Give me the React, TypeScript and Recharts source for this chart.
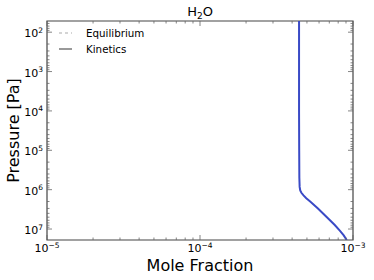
import React from 'react';
import { ScatterChart, Scatter, XAxis, YAxis, ReferenceArea } from 'recharts';

const W = 374;
const H = 280;
const MARGIN = { top: 21, right: 21, bottom: 0, left: 0 };
const Y_AXIS_W = 47;
const X_AXIS_H = 40;
const PLOT_LEFT = MARGIN.left + Y_AXIS_W;
const PLOT_RIGHT = W - MARGIN.right;
const PLOT_TOP = MARGIN.top;
const PLOT_BOTTOM = H - MARGIN.bottom - X_AXIS_H;

const FONT = '"DejaVu Sans", sans-serif';
const BLUE = '#3a4ac6';
const FRAME = '#444';

// H2O kinetics profile (pressure in Pa, mole fraction)
const pressure = [52, 1e2, 1e3, 1e4, 1e5, 5e5, 8.5e5, 1.05e6, 1.2e6, 1.4e6, 1.65e6, 2.0e6, 3.0e6, 4.9e6, 7.9e6, 1.1e7, 1.45e7, 1.9e7];
const kinetics = [4.44e-4, 4.44e-4, 4.44e-4, 4.44e-4, 4.45e-4, 4.46e-4, 4.48e-4, 4.52e-4, 4.6e-4, 4.75e-4, 4.95e-4, 5.25e-4, 5.9e-4, 6.7e-4, 7.6e-4, 8.2e-4, 8.7e-4, 9.1e-4];

const xDomain = [1e-5, 1e-3];
const yDomain = [52, 1.9e7];

const legendItems = [
  { name: 'Equilibrium', color: '#aaa', dash: '3 3' },
  { name: 'Kinetics', color: '#555', dash: undefined },
];

const curve = pressure.map((p, i) => ({ x: kinetics[i], p }));

// major + minor ticks for a log axis
function logTicks(lo: number, hi: number) {
  const out: number[] = [];
  for (let e = Math.floor(Math.log10(lo)); e <= Math.ceil(Math.log10(hi)); e++) {
    for (let m = 1; m < 10; m++) {
      const v = m * Math.pow(10, e);
      if (v >= lo * 0.999 && v <= hi * 1.001) out.push(v);
    }
  }
  return out;
}

function isMajor(v: number) {
  const e = Math.log10(v);
  return Math.abs(e - Math.round(e)) < 1e-6;
}

function supLabel(v: number) {
  const e = Math.round(Math.log10(v));
  return e < 0 ? '\u2212' + Math.abs(e) : String(e);
}

function XTick(props: any) {
  const { x, y, payload } = props;
  const major = isMajor(payload.value);
  const len = major ? 5 : 2.5;
  return (
    <g>
      <line x1={x} y1={y} x2={x} y2={y - len} stroke="#666" strokeWidth={0.8} />
      <line x1={x} y1={PLOT_TOP} x2={x} y2={PLOT_TOP + len} stroke="#666" strokeWidth={0.8} />
      {major && (
        <text x={x} y={y + 12} textAnchor="middle" fontFamily={FONT} fontSize={11} fill="#000">
          10<tspan dy={-4.5} fontSize={7.5}>{supLabel(payload.value)}</tspan>
        </text>
      )}
    </g>
  );
}

function YTick(props: any) {
  const { x, y, payload } = props;
  const major = isMajor(payload.value);
  const len = major ? 5 : 2.5;
  return (
    <g>
      <line x1={x} y1={y} x2={x + len} y2={y} stroke="#666" strokeWidth={0.8} />
      <line x1={PLOT_RIGHT} y1={y} x2={PLOT_RIGHT - len} y2={y} stroke="#666" strokeWidth={0.8} />
      {major && (
        <text x={x - 4} y={y + 5} textAnchor="end" fontFamily={FONT} fontSize={11} fill="#000">
          10<tspan dy={-4.5} fontSize={7.5}>{supLabel(payload.value)}</tspan>
        </text>
      )}
    </g>
  );
}

export default function App() {
  const xTicks = logTicks(xDomain[0], xDomain[1]);
  const yTicks = logTicks(yDomain[0], yDomain[1]);
  const midX = (PLOT_LEFT + PLOT_RIGHT) / 2;
  const midY = (PLOT_TOP + PLOT_BOTTOM) / 2;

  return (
    <div style={{ position: 'absolute', left: 0, top: 0, width: W, height: H, background: '#fff' }}>
      <ScatterChart width={W} height={H} margin={MARGIN}>
        <XAxis
          type="number"
          dataKey="x"
          scale="log"
          domain={xDomain}
          allowDataOverflow
          ticks={xTicks}
          interval={0}
          tick={<XTick />}
          tickLine={false}
          tickSize={0}
          tickMargin={0}
          axisLine={false}
          height={X_AXIS_H}
        />
        <YAxis
          type="number"
          dataKey="p"
          scale="log"
          domain={yDomain}
          allowDataOverflow
          reversed
          ticks={yTicks}
          interval={0}
          tick={<YTick />}
          tickLine={false}
          tickSize={0}
          tickMargin={0}
          axisLine={false}
          width={Y_AXIS_W}
        />
        <Scatter
          data={curve}
          line={{ stroke: BLUE, strokeWidth: 2 }}
          lineType="joint"
          shape={() => <g />}
          isAnimationActive={false}
        />
        <ReferenceArea
          x1={xDomain[0]}
          x2={xDomain[1]}
          y1={yDomain[0]}
          y2={yDomain[1]}
          fill="none"
          fillOpacity={0}
          stroke={FRAME}
          strokeWidth={1.2}
          ifOverflow="visible"
        />
      </ScatterChart>

      <svg width={W} height={H} style={{ position: 'absolute', left: 0, top: 0, pointerEvents: 'none' }}>
        <text x={midX} y={16} textAnchor="middle" fontFamily={FONT} fontSize={13} fill="#000">
          H<tspan dy={3} fontSize={9}>2</tspan><tspan dy={-3}>O</tspan>
        </text>
        <text
          x={0}
          y={0}
          transform={`translate(19, ${midY}) rotate(-90)`}
          textAnchor="middle"
          fontFamily={FONT}
          fontSize={16}
          fill="#000"
        >
          Pressure [Pa]
        </text>
        <text x={midX} y={271} textAnchor="middle" fontFamily={FONT} fontSize={16} fill="#000">
          Mole Fraction
        </text>
        {legendItems.map((item, i) => (
          <g key={item.name}>
            <line
              x1={59}
              x2={72}
              y1={33 + i * 16}
              y2={33 + i * 16}
              stroke={item.color}
              strokeWidth={1.2}
              strokeDasharray={item.dash}
            />
            <text x={86} y={37 + i * 16} fontFamily={FONT} fontSize={10.3} fill="#000">
              {item.name}
            </text>
          </g>
        ))}
      </svg>
    </div>
  );
}
